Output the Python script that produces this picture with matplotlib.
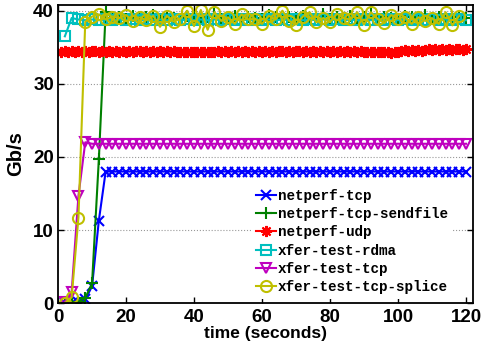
import numpy as np
import matplotlib
matplotlib.use('Agg')
import matplotlib.pyplot as plt

# time axis (seconds)
t2 = np.arange(2, 121, 2)      # 60 samples, every 2 s
t1 = np.arange(1, 121, 1)      # 120 samples, every 1 s (udp)

netperf_tcp = [0.0, 0.0, 0.1, 0.5, 2.3, 11.3] + [18.0] * 54

netperf_tcp_sendfile = [0.0, 0.1, 0.2, 0.7, 2.7, 19.7, 39.8, 39.0, 39.2, 38.9,
                        39.3, 38.8, 39.1, 39.4, 38.9, 39.2, 39.0, 38.8, 39.3, 39.1,
                        38.9, 39.2, 39.5, 38.9, 39.0, 39.3, 38.8, 39.2, 39.0, 38.9,
                        39.4, 39.1, 38.8, 39.2, 39.0, 39.3, 38.9, 39.1, 39.6, 38.9,
                        39.2, 39.0, 39.3, 38.8, 39.1, 39.5, 38.9, 39.2, 39.0, 38.8,
                        39.3, 39.1, 38.9, 39.4, 39.0, 39.2, 38.9, 39.1, 39.3, 39.0]

netperf_udp = [34.4, 34.5, 34.4, 34.5, 34.4, 34.5, 34.4, 34.5, 34.4, 34.5,
               34.5, 34.4, 34.5, 34.4, 34.5, 34.4, 34.5, 34.4, 34.5, 34.4,
               34.5, 34.4, 34.5, 34.5, 34.4, 34.5, 34.4, 34.5, 34.4, 34.5,
               34.4, 34.5, 34.4, 34.5, 34.4, 34.3, 34.4, 34.3, 34.4, 34.3,
               34.4, 34.3, 34.4, 34.3, 34.4, 34.4, 34.5, 34.4, 34.5, 34.4,
               34.5, 34.4, 34.5, 34.4, 34.5, 34.4, 34.5, 34.4, 34.5, 34.4,
               34.5, 34.4, 34.5, 34.4, 34.5, 34.5, 34.4, 34.5, 34.4, 34.5,
               34.5, 34.4, 34.5, 34.4, 34.5, 34.4, 34.5, 34.4, 34.5, 34.4,
               34.5, 34.4, 34.5, 34.4, 34.5, 34.4, 34.5, 34.4, 34.5, 34.4,
               34.4, 34.3, 34.4, 34.3, 34.4, 34.3, 34.3, 34.2, 34.3, 34.4,
               34.5, 34.6, 34.5, 34.6, 34.5, 34.6, 34.5, 34.6, 34.7, 34.6,
               34.7, 34.6, 34.7, 34.6, 34.7, 34.6, 34.7, 34.7, 34.6, 34.7]

xfer_test_rdma = [36.5, 39.0, 38.8, 38.7, 38.8, 38.7, 38.8, 38.7, 38.8, 38.7,
                  38.8, 38.7, 38.8, 38.7, 38.8, 38.7, 38.8, 38.7, 38.8, 38.7,
                  38.8, 38.7, 38.8, 38.7, 38.8, 38.7, 38.8, 38.7, 38.8, 38.7,
                  38.8, 38.7, 38.8, 38.7, 38.8, 38.7, 38.8, 38.7, 38.8, 38.7,
                  38.8, 38.7, 38.8, 38.7, 38.8, 38.7, 38.8, 38.7, 38.8, 38.7,
                  38.8, 38.7, 38.8, 38.7, 38.8, 38.7, 38.8, 38.7, 38.8, 38.7]

xfer_test_tcp = [0.2, 1.5, 14.7, 22.0] + [21.8] * 56

xfer_test_tcp_splice = [0.0, 0.8, 11.7, 38.5, 39.2, 39.5, 38.8, 39.2, 39.0, 39.4,
                        38.6, 39.1, 38.7, 39.3, 37.8, 39.3, 38.5, 38.9, 40.0, 37.9,
                        40.1, 37.4, 39.8, 38.6, 39.1, 38.2, 39.5, 38.8, 38.9, 38.2,
                        39.3, 38.8, 40.0, 38.6, 38.1, 39.2, 39.8, 38.4, 39.0, 38.4,
                        39.6, 39.0, 38.8, 39.8, 38.1, 39.8, 38.9, 38.3, 39.4, 38.9,
                        39.2, 38.2, 39.1, 38.6, 39.0, 38.2, 39.8, 38.0, 39.3]

series = [
    (t2, netperf_tcp, 'netperf-tcp', (0, 0, 1), 'x', 7),
    (t2, netperf_tcp_sendfile, 'netperf-tcp-sendfile', (0, 0.5, 0), '+', 8),
    (t1, netperf_udp, 'netperf-udp', (1, 0, 0), (8, 2, 0), 8),
    (t2, xfer_test_rdma, 'xfer-test-rdma', (0, 0.75, 0.75), 's', 7),
    (t2, xfer_test_tcp, 'xfer-test-tcp', (0.75, 0, 0.75), 'v', 7.5),
    (t2[:len(xfer_test_tcp_splice)], xfer_test_tcp_splice, 'xfer-test-tcp-splice', (0.75, 0.75, 0), 'o', 8),
]

fig = plt.figure(figsize=(4.92, 3.48), dpi=100)
ax = fig.add_axes([0.118, 0.129, 0.843, 0.857])

for x, y, lab, col, mk, ms in series:
    ax.plot(x, y, color=col, marker=mk, markersize=ms, markerfacecolor='none',
            markeredgewidth=1.5, linewidth=1.5, label=lab)

ax.set_xlim(0, 122)
ax.set_ylim(0, 40.8)
ax.set_xticks([0, 20, 40, 60, 80, 100, 120])
ax.set_yticks([0, 10, 20, 30, 40])
ax.yaxis.grid(True, linestyle=':', color='0.6', linewidth=0.8)
ax.tick_params(direction='in', top=True, right=True, length=4, width=1,
               labelsize=13.5, pad=3)
ax.tick_params(axis='x', pad=4)
for lbl in ax.get_xticklabels() + ax.get_yticklabels():
    lbl.set_fontweight('bold')
    lbl.set_family('Liberation Sans')
for s in ax.spines.values():
    s.set_linewidth(1.3)

ax.set_xlabel('time (seconds)', fontsize=12.5, fontweight='bold',
              family='Liberation Sans', labelpad=0)
ax.set_ylabel('Gb/s', fontsize=14.5, fontweight='bold',
              family='Liberation Sans', labelpad=6)

leg = ax.legend(loc='lower right', bbox_to_anchor=(0.95, 0.015),
                prop={'family': 'Liberation Mono', 'weight': 'bold', 'size': 10.3},
                frameon=True, fancybox=False, edgecolor='none', facecolor='white', framealpha=1,
                borderaxespad=0, labelspacing=0.3, handlelength=1.4, handletextpad=0.1,
                borderpad=0.3)

fig.savefig('out.png', dpi=100)
